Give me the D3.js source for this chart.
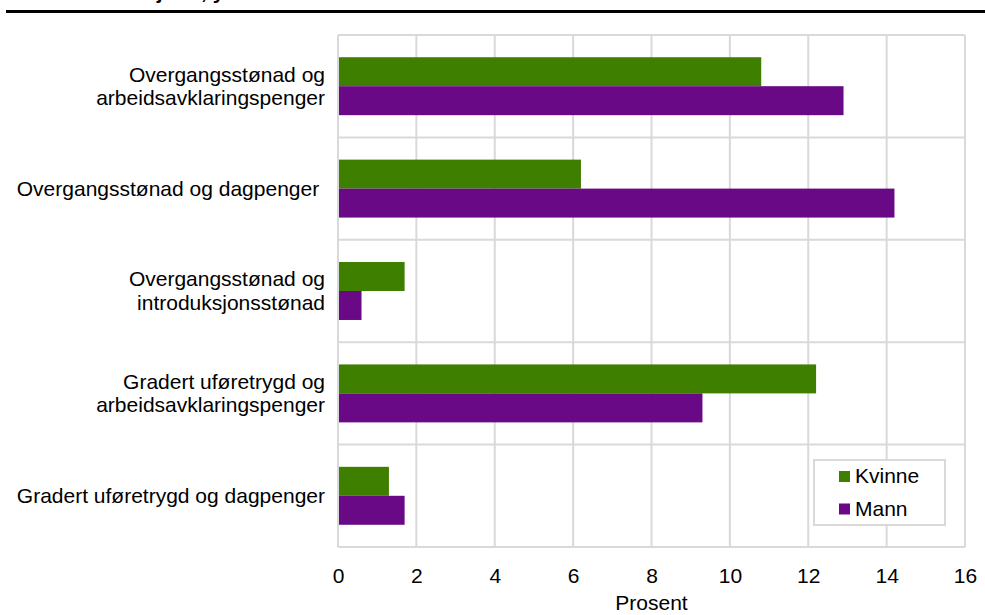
<!DOCTYPE html>
<html>
<head>
<meta charset="utf-8">
<script src="https://cdn.jsdelivr.net/npm/d3@7"></script>
<style>
  html, body { margin: 0; padding: 0; background: #fff; }
  svg { display: block; font-family: "Liberation Sans", Arial, sans-serif; }
</style>
</head>
<body>
<svg id="chart" width="985" height="615"></svg>
<script>
// ---- data ----
const categories = [
  ["Overgangsstønad og", "arbeidsavklaringspenger"],
  ["Overgangsstønad og dagpenger "],
  ["Overgangsstønad og", "introduksjonsstønad"],
  ["Gradert uføretrygd og", "arbeidsavklaringspenger"],
  ["Gradert uføretrygd og dagpenger"]
];
const seriesNames = ["Kvinne", "Mann"];
const kvinne = [10.8, 6.2, 1.7, 12.2, 1.3];
const mann = [12.9, 14.2, 0.6, 9.3, 1.7];
const xTicks = [0, 2, 4, 6, 8, 10, 12, 14, 16];
const xTitle = "Prosent";
const titleText = "kjønn, ytelse";

const colors = { Kvinne: "#3e7f00", Mann: "#690985" };
const gridColor = "#d9d9d9";

const svg = d3.select("#chart");
const W = 985, H = 615;
const x0 = 338, x1 = 965, y0 = 35, y1 = 547;

const x = d3.scaleLinear().domain([0, 16]).range([x0, x1]);
const y = d3.scaleBand().domain(d3.range(categories.length)).range([y0, y1]).padding(0);
const ys = d3.scaleBand().domain(seriesNames).range([0, y.bandwidth()]).paddingInner(0).paddingOuter(0.767);

// partial title (cut off at top of the picture) and rule
svg.append("text").attr("x", 145).attr("y", -1).attr("font-weight", "bold")
  .attr("font-size", 21).attr("fill", "#000").text(titleText);
svg.append("rect").attr("x", 6).attr("y", 10).attr("width", W - 6).attr("height", 3).attr("fill", "#000");

// grid
const g = svg.append("g");
g.selectAll("line.v").data(xTicks).join("line")
  .attr("x1", d => x(d)).attr("x2", d => x(d))
  .attr("y1", y0).attr("y2", y1)
  .attr("stroke", gridColor).attr("stroke-width", 2);
g.selectAll("line.h").data(d3.range(categories.length + 1)).join("line")
  .attr("x1", x0).attr("x2", x1)
  .attr("y1", d => d < categories.length ? y(d) : y1)
  .attr("y2", d => d < categories.length ? y(d) : y1)
  .attr("stroke", gridColor).attr("stroke-width", 2);

// bars
const rows = categories.map((c, i) => ({ i, Kvinne: kvinne[i], Mann: mann[i] }));
const bars = svg.append("g");
rows.forEach(r => {
  seriesNames.forEach(s => {
    bars.append("rect")
      .attr("x", x(0) + 1)
      .attr("y", y(r.i) + ys(s))
      .attr("width", x(r[s]) - x(0) - 1)
      .attr("height", ys.bandwidth())
      .attr("fill", colors[s]);
  });
});

// category labels
const labels = svg.append("g").attr("font-size", 21).attr("fill", "#000").attr("text-anchor", "end");
categories.forEach((lines, i) => {
  const cy = y(i) + y.bandwidth() / 2;
  const lh = 23.5;
  const t = labels.append("text").attr("x", 325).style("white-space", "pre");
  lines.forEach((ln, k) => {
    t.append("tspan").attr("x", 325)
      .attr("y", cy + (k - (lines.length - 1) / 2) * lh)
      .attr("dy", "0.34em").text(ln);
  });
});

// x axis labels
const xAxis = d3.axisBottom(x).tickValues(xTicks).tickSize(0).tickPadding(0);
const ax = svg.append("g").attr("transform", `translate(0, ${y1 + 21})`).call(xAxis);
ax.select(".domain").remove();
ax.selectAll("text").attr("font-size", 21).attr("font-family", "Liberation Sans, Arial, sans-serif").attr("fill", "#000");

svg.append("text").attr("x", x(8)).attr("y", 610).attr("text-anchor", "middle")
  .attr("font-size", 21).attr("fill", "#000").text(xTitle);

// legend
const lg = svg.append("g");
lg.append("rect").attr("x", 814).attr("y", 460).attr("width", 131).attr("height", 65)
  .attr("fill", "#fff").attr("stroke", gridColor).attr("stroke-width", 2);
seriesNames.forEach((s, k) => {
  lg.append("rect").attr("x", 839).attr("y", 471 + k * 32.5).attr("width", 11).attr("height", 11).attr("fill", colors[s]);
  lg.append("text").attr("x", 855).attr("y", 483 + k * 32.5).attr("font-size", 21).attr("fill", "#000").text(s);
});
</script>
</body>
</html>
